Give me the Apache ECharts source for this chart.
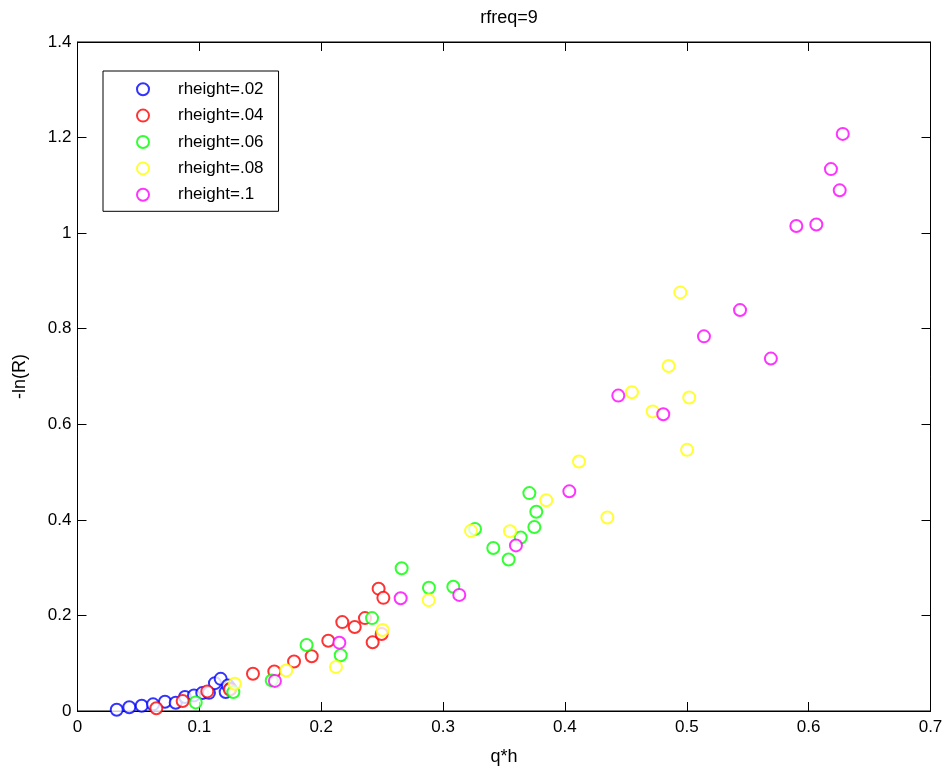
<!DOCTYPE html>
<html>
<head>
<meta charset="utf-8">
<script src="https://cdn.jsdelivr.net/npm/echarts@6/dist/echarts.min.js"></script>
<style>html,body{margin:0;padding:0;background:#fff}#c{width:947px;height:771px}</style>
</head>
<body>
<div id="c"></div>
<script>
var seriesNames = ['rheight=.02','rheight=.04','rheight=.06','rheight=.08','rheight=.1'];
var seriesColors = ['#0000ff','#ff0000','#00ff00','#ffff00','#ff00ff'];
var xTicks = [0,0.1,0.2,0.3,0.4,0.5,0.6,0.7];
var yTicks = [0,0.2,0.4,0.6,0.8,1,1.2,1.4];

var h02 = [[0.0322,0.0027],[0.0425,0.008],[0.0527,0.011],[0.062,0.0139],[0.0718,0.0194],[0.0806,0.0173],[0.0882,0.0292],[0.0956,0.0326],[0.1024,0.0375],[0.1079,0.038],[0.1128,0.0583],[0.1175,0.0673],[0.1216,0.0396],[0.1235,0.0535],[0.1257,0.0465]];
var h04 = [[0.0647,0.0056],[0.0863,0.021],[0.1065,0.041],[0.125,0.045],[0.144,0.078],[0.1615,0.0827],[0.1777,0.1035],[0.1922,0.1146],[0.2058,0.147],[0.2173,0.186],[0.2275,0.1757],[0.2359,0.1944],[0.2422,0.1437],[0.2471,0.256],[0.251,0.2368],[0.2496,0.161]];
var h06 = [[0.097,0.018],[0.1279,0.0396],[0.1594,0.064],[0.188,0.138],[0.216,0.1167],[0.2417,0.1944],[0.266,0.2986],[0.2884,0.258],[0.3084,0.26],[0.3262,0.381],[0.3412,0.341],[0.3538,0.317],[0.3637,0.363],[0.3708,0.456],[0.3749,0.385],[0.3765,0.417]];
var h08 = [[0.129,0.057],[0.1713,0.0848],[0.2121,0.0923],[0.2504,0.1694],[0.2882,0.232],[0.3229,0.377],[0.3549,0.3764],[0.3847,0.441],[0.4115,0.522],[0.4348,0.405],[0.455,0.667],[0.472,0.627],[0.4851,0.722],[0.4947,0.876],[0.502,0.656],[0.5002,0.5465]];
var h10 = [[0.162,0.063],[0.2149,0.143],[0.2652,0.236],[0.3133,0.243],[0.3598,0.3465],[0.4036,0.4597],[0.4438,0.66],[0.4807,0.621],[0.5141,0.784],[0.5437,0.839],[0.569,0.7375],[0.5899,1.015],[0.6063,1.018],[0.6183,1.134],[0.6255,1.0896],[0.628,1.2077]];
var allData = [h02,h04,h06,h08,h10];

var font = 'Liberation Sans, Arial, sans-serif';
var chart = echarts.init(document.getElementById('c'));

function axisCommon(showLabel) {
  return {
    axisLine: {show: true, onZero: false, lineStyle: {color: '#000', width: 1}},
    axisTick: {show: true, inside: true, length: 9, lineStyle: {color: '#000', width: 1}},
    axisLabel: {show: showLabel, color: '#000', fontFamily: font, fontSize: 17},
    splitLine: {show: false}
  };
}

var xMain = Object.assign(axisCommon(true), {
  type: 'value', position: 'bottom', min: xTicks[0], max: xTicks[xTicks.length-1], interval: 0.1,
  name: 'q*h', nameLocation: 'middle', nameGap: 37,
  nameTextStyle: {color: '#000', fontFamily: font, fontSize: 18}
});
xMain.axisLabel.margin = 8;
var xTop = Object.assign(axisCommon(false), {
  type: 'value', position: 'top', min: xTicks[0], max: xTicks[xTicks.length-1], interval: 0.1
});
var yMain = Object.assign(axisCommon(true), {
  type: 'value', position: 'left', min: yTicks[0], max: yTicks[yTicks.length-1], interval: 0.2,
  name: '-ln(R)', nameLocation: 'middle', nameGap: 48,
  nameTextStyle: {color: '#000', fontFamily: font, fontSize: 18}
});
yMain.axisLabel.margin = 6;
var yRight = Object.assign(axisCommon(false), {
  type: 'value', position: 'right', min: yTicks[0], max: yTicks[yTicks.length-1], interval: 0.2
});

var series = allData.map(function (d, i) {
  return {
    name: seriesNames[i], type: 'scatter', xAxisIndex: 0, yAxisIndex: 0,
    data: d, symbol: 'emptyCircle', symbolSize: 12,
    itemStyle: {color: seriesColors[i], borderColor: seriesColors[i], borderWidth: 1},
    emphasis: {disabled: true}
  };
});

chart.setOption({
  animation: false,
  backgroundColor: '#fff',
  title: {
    text: 'rfreq=9', left: 504, top: 4, textAlign: 'center',
    textStyle: {color: '#000', fontFamily: font, fontSize: 18, fontWeight: 'normal'}
  },
  grid: {left: 77.5, right: 16.5, top: 42, bottom: 57, containLabel: false,
    show: true, borderColor: '#000', borderWidth: 1},
  legend: {
    orient: 'vertical', left: 103, top: 71,
    data: seriesNames.map(function (n) { return {name: n, icon: 'emptyCircle'}; }),
    itemWidth: 12, itemHeight: 12, itemGap: 9.4,
    padding: [9.7, 15, 8, 33],
    borderColor: '#000', borderWidth: 1, backgroundColor: '#fff',
    textStyle: {color: '#000', fontFamily: font, fontSize: 17, lineHeight: 14, padding: [0, 0, 0, 24]},
    selectedMode: false
  },
  xAxis: [xMain, xTop],
  yAxis: [yMain, yRight],
  series: series
});
</script>
</body>
</html>
